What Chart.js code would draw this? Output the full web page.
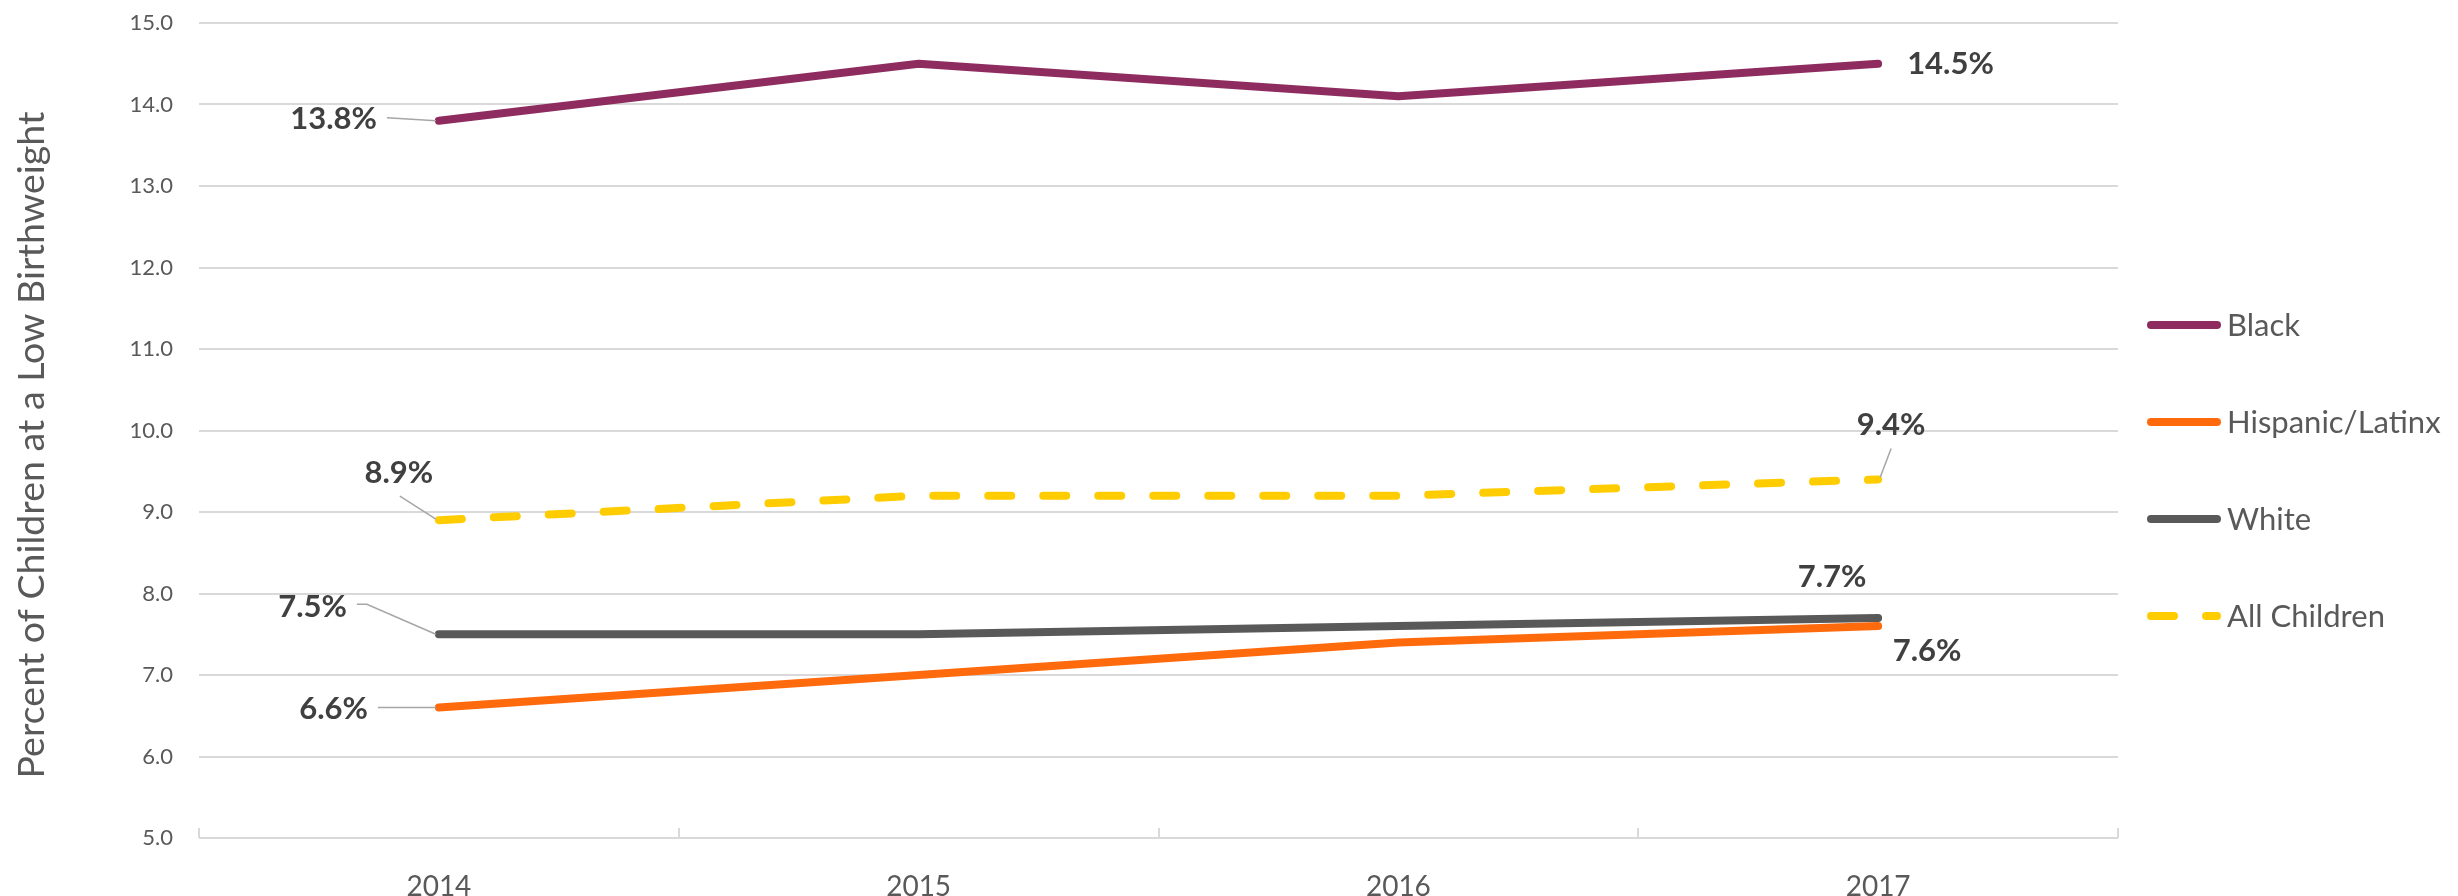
<!DOCTYPE html>
<html>
<head>
<meta charset="utf-8">
<script src="https://cdn.jsdelivr.net/npm/chart.js@4"></script>
<style>
    body { margin: 0; background: #ffffff; }
    #chart { display: block; }
</style>
</head>
<body>
<canvas id="chart" width="2458" height="896"></canvas>
<script>
// Data
const years = ['2014', '2015', '2016', '2017'];
const black = [13.8, 14.5, 14.1, 14.5];
const hispanic = [6.6, 7.0, 7.4, 7.6];
const white = [7.5, 7.5, 7.6, 7.7];
const allChildren = [8.9, 9.2, 9.2, 9.4];
const seriesNames = ['Black', 'Hispanic/Latinx', 'White', 'All Children'];
const yAxisTitle = 'Percent of Children at a Low Birthweight';

const colors = ['#8e2c60', '#ff6a0d', '#595959', '#ffcc00'];
const textColor = '#595959';
const labelColor = '#404040';
const gridColor = '#d9d9d9';
const fontFamily = 'Lato, "Open Sans", sans-serif';

// Where each value label sits, relative to its point (index -> placement)
const labelPlacements = [
    { 0: { dx: -62, dy: -2, align: 'right', leader: [[-52, -3], [-3, 0]] },
      3: { dx: 29, dy: 0, align: 'left' } },
    { 0: { dx: -71, dy: 1, align: 'right', leader: [[-61, 0], [-3, 0]] },
      3: { dx: 49, dy: 25, align: 'center' } },
    { 0: { dx: -92, dy: -27, align: 'right', leader: [[-82, -30], [-72, -30], [-3, 0]] },
      3: { dx: -46, dy: -41, align: 'center' } },
    { 0: { dx: -40, dy: -47, align: 'center', leader: [[-39, -24], [-3, -1]] },
      3: { dx: 13, dy: -54, align: 'center', leader: [[13, -31], [2, -2]] } }
];

// Value labels with leader lines
const valueLabels = {
    id: 'valueLabels',
    afterDatasetsDraw(chart) {
        const ctx = chart.ctx;
        ctx.save();
        chart.data.datasets.forEach((ds, i) => {
            const meta = chart.getDatasetMeta(i);
            const places = labelPlacements[i];
            Object.keys(places).forEach(idx => {
                const p = places[idx];
                const pt = meta.data[idx];
                if (p.leader) {
                    ctx.strokeStyle = '#a6a6a6';
                    ctx.lineWidth = 1.5;
                    ctx.beginPath();
                    p.leader.forEach((l, k) => {
                        if (k === 0) ctx.moveTo(pt.x + l[0], pt.y + l[1]);
                        else ctx.lineTo(pt.x + l[0], pt.y + l[1]);
                    });
                    ctx.stroke();
                }
                ctx.fillStyle = labelColor;
                ctx.font = 'bold 31px ' + fontFamily;
                ctx.textAlign = p.align;
                ctx.textBaseline = 'middle';
                ctx.fillText(ds.data[idx].toFixed(1) + '%', pt.x + p.dx, pt.y + p.dy);
            });
        });
        ctx.restore();
    }
};

// Legend on the right, axis title and the small tick marks on the x axis
const extras = {
    id: 'extras',
    afterDraw(chart) {
        const ctx = chart.ctx;
        const area = chart.chartArea;
        const x = chart.scales.x;
        ctx.save();

        // tick marks at category boundaries, pointing up
        ctx.strokeStyle = gridColor;
        ctx.lineWidth = 2;
        for (let i = 0; i <= years.length; i++) {
            const px = Math.round(x.getPixelForValue(i - 0.5));
            ctx.beginPath();
            ctx.moveTo(px, area.bottom);
            ctx.lineTo(px, area.bottom - 10);
            ctx.stroke();
        }

        // y axis title
        ctx.translate(44, 445);
        ctx.rotate(-Math.PI / 2);
        ctx.fillStyle = textColor;
        ctx.font = '37.5px ' + fontFamily;
        ctx.textAlign = 'center';
        ctx.textBaseline = 'alphabetic';
        ctx.fillText(yAxisTitle, 0, 0);
        ctx.setTransform(1, 0, 0, 1, 0, 0);

        // legend
        chart.data.datasets.forEach((ds, i) => {
            const ly = 325 + i * 97;
            const lx = area.right + 29;
            ctx.strokeStyle = ds.borderColor;
            ctx.lineWidth = 8;
            ctx.lineCap = 'round';
            ctx.setLineDash(ds.borderDash || []);
            ctx.beginPath();
            ctx.moveTo(lx + 4, ly);
            ctx.lineTo(lx + 70, ly);
            ctx.stroke();
            ctx.setLineDash([]);
            ctx.fillStyle = textColor;
            ctx.font = '31px ' + fontFamily;
            ctx.textAlign = 'left';
            ctx.textBaseline = 'middle';
            ctx.fillText(ds.label, lx + 80, ly + 1);
        });
        ctx.restore();
    }
};

const seriesData = [black, hispanic, white, allChildren];

new Chart(document.getElementById('chart'), {
    type: 'line',
    data: {
        labels: years,
        datasets: seriesData.map((values, i) => ({
            label: seriesNames[i],
            data: values,
            borderColor: colors[i],
            backgroundColor: colors[i],
            borderWidth: 8,
            borderCapStyle: 'round',
            borderJoinStyle: 'round',
            borderDash: i === 3 ? [23, 32] : [],
            pointRadius: 0,
            tension: 0
        }))
    },
    options: {
        responsive: false,
        animation: false,
        layout: {
            padding: { top: 23, right: 340, bottom: 0, left: 0 }
        },
        plugins: {
            legend: { display: false },
            tooltip: { enabled: false }
        },
        scales: {
            x: {
                offset: true,
                grid: { display: false },
                border: { display: false },
                ticks: {
                    color: textColor,
                    padding: 24,
                    font: { family: fontFamily, size: 28 }
                },
                afterFit(scale) {
                    scale.height = 58;
                    scale.paddingLeft = 0;
                    scale.paddingRight = 0;
                }
            },
            y: {
                min: 5,
                max: 15,
                ticks: {
                    stepSize: 1,
                    color: textColor,
                    padding: 26,
                    font: { family: fontFamily, size: 22 },
                    callback: v => v.toFixed(1)
                },
                grid: { color: gridColor, lineWidth: 2, drawTicks: false },
                border: { display: false },
                afterFit(scale) {
                    scale.width = 199;
                    scale.paddingTop = 0;
                    scale.paddingBottom = 0;
                }
            }
        }
    },
    plugins: [valueLabels, extras]
});
</script>
</body>
</html>
